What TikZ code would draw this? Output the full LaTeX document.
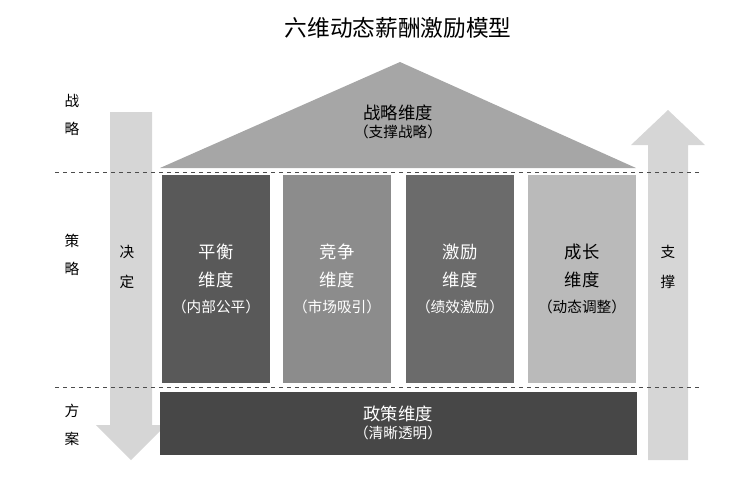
\documentclass[tikz,border=0pt]{standalone}
\usepackage{fontspec}
\setmainfont{Noto Sans CJK SC}
\usetikzlibrary{shapes.arrows}

\newlength{\unitpx}\setlength{\unitpx}{0.75pt}
\tikzset{
  pillar/.style={minimum width=108\unitpx,minimum height=208\unitpx,inner sep=0pt,font=\fontsize{13}{15}\selectfont,align=center},
  side/.style={font=\fontsize{11}{17}\selectfont,align=center},
  guide/.style={dashed,black!70,line width=0.6pt}
}

\begin{document}
\begin{tikzpicture}[x=0.75pt,y=-0.75pt]
\useasboundingbox (0,0) rectangle (754,476);
\node (title) at (398,28) {\fontsize{17}{20}\selectfont 六维动态薪酬激励模型};

% arrows at the sides
\fill[black!16] (110,112) -- (152,112) -- (152,425) -- (166,425) -- (131,460) -- (96,425) -- (110,425) -- cycle;
\fill[black!16] (648,460) -- (688,460) -- (688,145) -- (705,145) -- (668,110) -- (631,145) -- (648,145) -- cycle;
\node[side] (decide) at (127,267) {决\\[6pt]定};
\node[side] (support) at (668,267) {支\\[6pt]撑};

% roof
\fill[black!35] (160,168) -- (400,62) -- (636,168) -- cycle;
\node[align=center] (roof) at (398,122) {\fontsize{13}{15}\selectfont 战略维度\\[2pt]\fontsize{11}{13}\selectfont （支撑战略）};

% pillars
\node[pillar,fill=black!65,text=white] (p1) at (216,279) {平衡\\[6pt]维度\\[4pt]\fontsize{11}{13}\selectfont （内部公平）};
\node[pillar,fill=black!45,text=white] (p2) at (337,279) {竞争\\[6pt]维度\\[4pt]\fontsize{11}{13}\selectfont （市场吸引）};
\node[pillar,fill=black!58,text=white] (p3) at (460,279) {激励\\[6pt]维度\\[4pt]\fontsize{11}{13}\selectfont （绩效激励）};
\node[pillar,fill=black!27] (p4) at (582,279) {成长\\[6pt]维度\\[4pt]\fontsize{11}{13}\selectfont （动态调整）};

% base
\node[fill=black!72,text=white,minimum width=477\unitpx,minimum height=63\unitpx,inner sep=0pt,align=center] (base) at (398,423)
  {\fontsize{13}{15}\selectfont 政策维度\\[2pt]\fontsize{11}{13}\selectfont （清晰透明）};

% guides
\draw[guide] (55,172) -- (700,172);
\draw[guide] (55,387) -- (700,387);

\node[side] (lv1) at (72,115) {战\\[4pt]略};
\node[side] (lv2) at (72,255) {策\\[4pt]略};
\node[side] (lv3) at (72,425) {方\\[4pt]案};
\end{tikzpicture}
\end{document}
